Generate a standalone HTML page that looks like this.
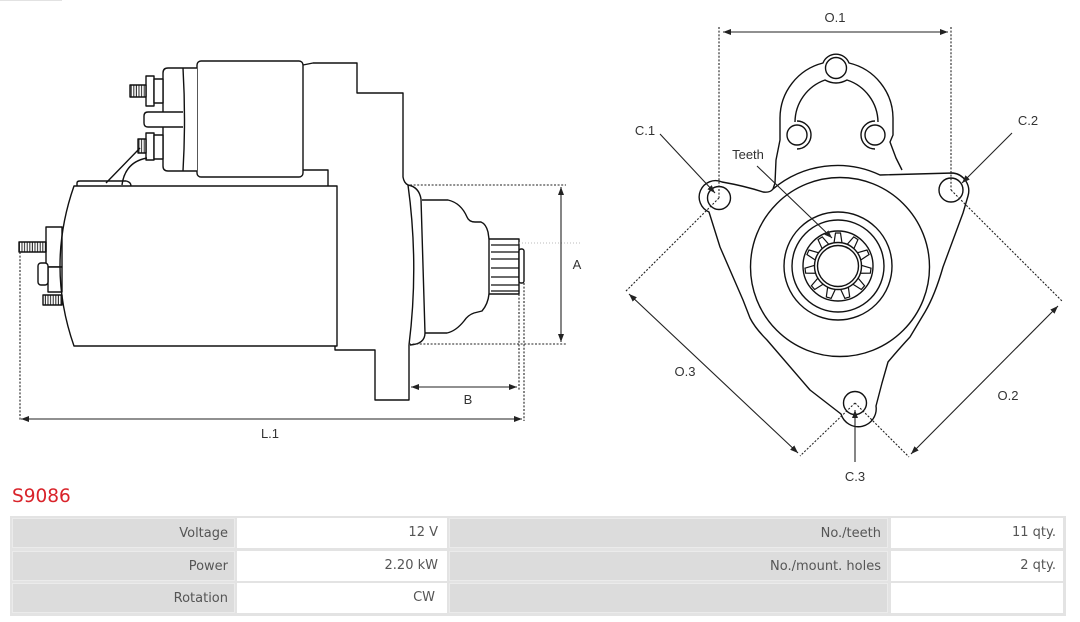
<!DOCTYPE html>
<html><head><meta charset="utf-8">
<style>
html,body{margin:0;padding:0;background:#fff;}
body{width:1080px;height:622px;position:relative;overflow:hidden;font-family:"DejaVu Sans","Liberation Sans",sans-serif;}
svg{position:absolute;left:0;top:0;}
.t{font-family:"Liberation Sans",sans-serif;font-size:13px;fill:#333;text-anchor:middle;}
.title{position:absolute;left:12px;top:485px;font-size:18.5px;color:#d9232a;line-height:24px;}
.frame{position:absolute;left:10px;top:516px;width:1056px;height:100px;background:#e3e3e3;}
.c{position:absolute;height:30px;line-height:30px;font-size:13px;color:#555;text-align:right;box-sizing:border-box;padding-right:6px;white-space:nowrap;}
.g{background:#dcdcdc;border:1px solid #ebebeb;}
.w{background:#fff;}
</style></head><body>
<svg width="1080" height="500" viewBox="0 0 1080 500" xmlns="http://www.w3.org/2000/svg">
<defs>
<marker id="a" viewBox="0 0 10 10" refX="10" refY="5" markerWidth="8" markerHeight="6" preserveAspectRatio="none" orient="auto-start-reverse" markerUnits="userSpaceOnUse"><path d="M0,0 L10,5 L0,10 z" fill="#222"/></marker>
<pattern id="h" width="2.6" height="20" patternUnits="userSpaceOnUse"><rect width="2.6" height="20" fill="#fff"/><line x1="1.2" y1="0" x2="1.2" y2="20" stroke="#222" stroke-width="1"/></pattern>
<path id="tooth" d="M834,243 L835.5,233 L840.5,233 L842,243" fill="none" stroke="#111" stroke-width="1.2"/>
</defs>
<line x1="0" y1="0.5" x2="62" y2="0.5" stroke="#e2e2e2" stroke-width="1"/>

<!-- LEFT VIEW -->
<g fill="none" stroke="#111" stroke-width="1.4" stroke-linejoin="round">
 <rect x="46" y="227" width="16" height="40" fill="#fff"/>
 <rect x="48" y="267" width="14" height="25" fill="#fff"/>
 <rect x="38" y="263" width="10" height="22" rx="3" fill="#fff"/>
 <rect x="19" y="242" width="27" height="10" fill="url(#h)"/>
 <rect x="43" y="295" width="19" height="10" fill="url(#h)"/>
 <path d="M74,186 L337,186 L337,346 L74,346 Q46,266 74,186 Z"/>
 <path d="M77,186 L77,183 Q77,181 80,181 L126,181 Q131,182 131,186"/>
 <path d="M303,65 L313,63 L357,63 L357,93 L403,93 L403,177 Q404,183 408,185"/>
 <path d="M408,185 Q419,187 421,199 L425,333 Q425,344 410,345"/>
 <path d="M408,185 Q419,265 409,345"/>
 <path d="M409,345 L409,400 L375,400 L375,350 L335,350 L335,346"/>
 <path d="M303,170 L328,170 L328,186"/>
 <rect x="197" y="61" width="106" height="116" rx="4" fill="#fff"/>
 <path d="M197,68 L168,68 Q163,68 163,73 L163,166 Q163,171 168,171 L197,171" fill="#fff"/>
 <path d="M183,68 Q186,120 183,171"/>
 <path d="M183,112 L148,112 Q144,112 144,116 L144,123 Q144,127 148,127 L183,127" fill="#fff"/>
 <rect x="146" y="76" width="8" height="30" fill="#fff"/>
 <rect x="154" y="79" width="9" height="24" fill="#fff"/>
 <rect x="130" y="85" width="16" height="12" fill="url(#h)"/>
 <rect x="146" y="133" width="8" height="27" fill="#fff"/>
 <rect x="154" y="135" width="9" height="24" fill="#fff"/>
 <rect x="138" y="139" width="8" height="14" fill="url(#h)"/>
 <path d="M106,183 L140,148"/>
 <path d="M122,185 Q125,162 147,158"/>
 <path d="M422,200 L448,200 Q461,203 467,217 Q469,222 475,222 L481,222 Q486,224 488,232 L489,239"/>
 <path d="M489,294 Q488,304 482,311 L474,313 Q468,315 464,321 Q456,331 447,333 L425,333"/>
 <rect x="489" y="239" width="30" height="55" fill="#fff"/>
 <path d="M491,245 H519 M491,252 H519 M491,259 H519 M491,268 H519 M491,277 H519 M491,285 H519 M491,291 H519" stroke-width="1.2"/>
 <rect x="519" y="249" width="5" height="34" rx="2" fill="#fff"/>
</g>
<g fill="none" stroke="#222" stroke-width="1.1">
 <path d="M410,185 H566 M409,344 H566 M519,294 V390 M524,283 V421 M20,252 V421" stroke-dasharray="2,1.6"/>
 <line x1="519" y1="243" x2="582" y2="243" stroke="#bbb" stroke-dasharray="1,2"/>
 <line x1="561" y1="187" x2="561" y2="342" marker-start="url(#a)" marker-end="url(#a)"/>
 <line x1="411" y1="387" x2="517" y2="387" marker-start="url(#a)" marker-end="url(#a)"/>
 <line x1="21" y1="419" x2="522" y2="419" marker-start="url(#a)" marker-end="url(#a)"/>
</g>
<text class="t" x="577" y="269">A</text>
<text class="t" x="468" y="404">B</text>
<text class="t" x="270" y="438">L.1</text>

<!-- RIGHT VIEW -->
<g fill="none" stroke="#111" stroke-width="1.4" stroke-linejoin="round">
 <path d="M709,212 A16,16 0 0 1 722,182 Q745,186 763,192 Q770,193 773,189 A100,100 0 0 1 880,175 L953,173 A18,18 0 0 1 968,196 L963,213 L943,267 Q935,295 925,312 L910,337 Q898,350 888,362 L882,383 L876,406 A18,18 0 0 1 841,414 L810,390 L767,340 Q755,328 750,318 L743,300 L720,247 Z"/>
 <path d="M773,189 L775,183 L776,160 L778,150 L780,140 L780,118 A57,57 0 0 1 823,63 A14,14 0 0 1 849,63 A57,57 0 0 1 893,118 L893,135 L890,142 Q893,150 896,158 L902,170"/>
 <circle cx="836" cy="68" r="10.5"/>
 <path d="M795,122 A45,45 0 0 1 825,80 Q836,86 847,80 A45,45 0 0 1 878,122"/>
 <circle cx="797" cy="135" r="10"/>
 <circle cx="875" cy="135" r="10"/>
 <path d="M797,121 A14,14 0 0 1 797,149"/>
 <path d="M875,121 A14,14 0 0 0 875,149"/>
 <circle cx="719" cy="198" r="11.5"/>
 <circle cx="951" cy="190" r="12"/>
 <circle cx="855" cy="403" r="11.5"/>
 <circle cx="840" cy="267" r="89.5"/>
 <circle cx="838" cy="266" r="54"/>
 <circle cx="838" cy="266" r="46"/>
 <circle cx="838" cy="266" r="35"/>
 <circle cx="838" cy="266" r="23.5"/>
 <circle cx="838" cy="266" r="20.5"/>
</g>
<use href="#tooth"/>
<use href="#tooth" transform="rotate(32.73 838 266)"/>
<use href="#tooth" transform="rotate(65.45 838 266)"/>
<use href="#tooth" transform="rotate(98.18 838 266)"/>
<use href="#tooth" transform="rotate(130.91 838 266)"/>
<use href="#tooth" transform="rotate(163.64 838 266)"/>
<use href="#tooth" transform="rotate(196.36 838 266)"/>
<use href="#tooth" transform="rotate(229.09 838 266)"/>
<use href="#tooth" transform="rotate(261.82 838 266)"/>
<use href="#tooth" transform="rotate(294.55 838 266)"/>
<use href="#tooth" transform="rotate(327.27 838 266)"/>
<g fill="none" stroke="#222" stroke-width="1.1">
 <path d="M719,27 V198 M951,27 V190 M719,198 L625,292 M855,403 L800,456 M951,190 L1062,301 M855,403 L909,457" stroke-dasharray="2,1.6"/>
 <line x1="723" y1="32" x2="948" y2="32" marker-start="url(#a)" marker-end="url(#a)"/>
 <line x1="629" y1="294" x2="798" y2="453" marker-start="url(#a)" marker-end="url(#a)"/>
 <line x1="1058" y1="306" x2="911" y2="454" marker-start="url(#a)" marker-end="url(#a)"/>
 <line x1="660" y1="134" x2="715" y2="193" marker-end="url(#a)"/>
 <line x1="1012" y1="133" x2="962" y2="183" marker-end="url(#a)"/>
 <line x1="855" y1="462" x2="855" y2="410" marker-end="url(#a)"/>
 <line x1="757" y1="166" x2="832" y2="238" marker-end="url(#a)"/>
</g>
<text class="t" x="835" y="22">O.1</text>
<text class="t" x="645" y="135">C.1</text>
<text class="t" x="1028" y="125">C.2</text>
<text class="t" x="748" y="159">Teeth</text>
<text class="t" x="685" y="376">O.3</text>
<text class="t" x="1008" y="400">O.2</text>
<text class="t" x="855" y="481">C.3</text>
</svg>

<div class="title">S9086</div>
<div class="frame"></div>
<div class="c g" style="left:12px;top:518px;width:223px;">Voltage</div>
<div class="c w" style="left:237px;top:518px;width:210px;padding-right:9px;">12 V</div>
<div class="c g" style="left:449px;top:518px;width:439px;">No./teeth</div>
<div class="c w" style="left:891px;top:518px;width:172px;padding-right:7px;">11 qty.</div>

<div class="c g" style="left:12px;top:551px;width:223px;">Power</div>
<div class="c w" style="left:237px;top:551px;width:210px;padding-right:9px;">2.20 kW</div>
<div class="c g" style="left:449px;top:551px;width:439px;">No./mount. holes</div>
<div class="c w" style="left:891px;top:551px;width:172px;padding-right:7px;">2 qty.</div>

<div class="c g" style="left:12px;top:583px;width:223px;">Rotation</div>
<div class="c w" style="left:237px;top:583px;width:210px;padding-right:12px;">CW</div>
<div class="c g" style="left:449px;top:583px;width:439px;"></div>
<div class="c w" style="left:891px;top:583px;width:172px;"></div>
</body></html>
